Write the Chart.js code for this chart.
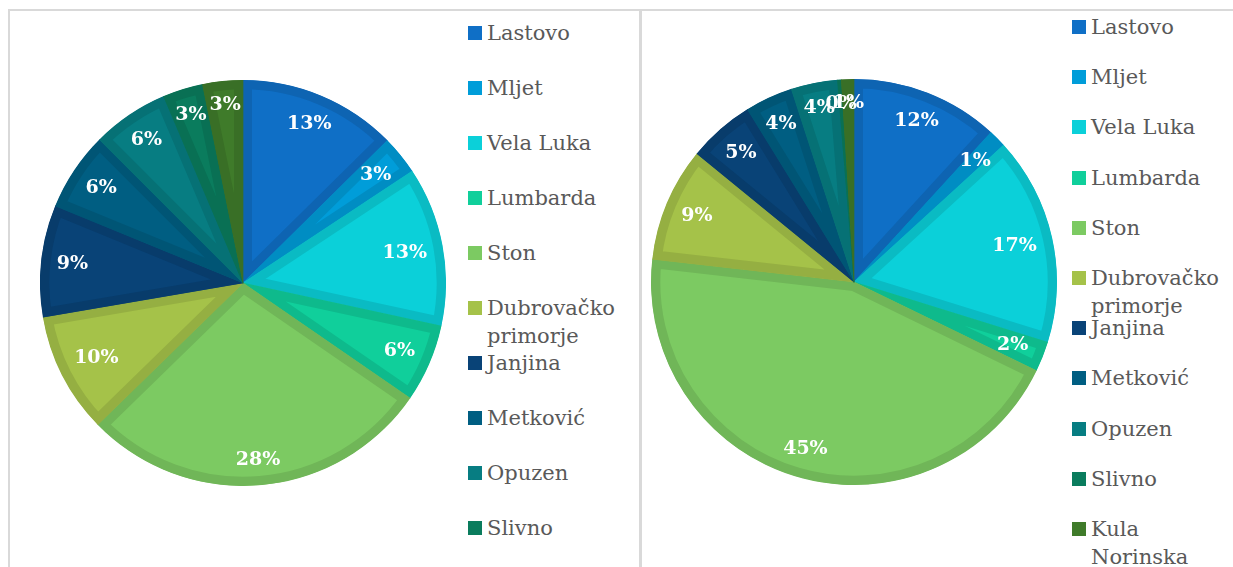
<!DOCTYPE html>
<html lang="hr">
<head>
<meta charset="UTF-8">
<title>Udio po općinama</title>
<script src="https://cdn.jsdelivr.net/npm/chart.js"></script>
<style>
    html, body { margin: 0; padding: 0; background: #fff; overflow: hidden; }
    body { width: 1233px; height: 567px; position: relative; font-family: 'DejaVu Serif', serif; }

    .panel {
        position: absolute;
        top: 9px;
        height: 640px;
        box-sizing: border-box;
        border: 2px solid #d9d9d9;
    }
    #panel-left { left: 8px; width: 633px; }
    #panel-right { left: 641px; width: 620px; border-left-width: 1px; }

    .pie { position: absolute; }
    #pie-left { left: 40px; top: 80px; }
    #pie-right { left: 651px; top: 79px; }

    .legend { position: absolute; margin: 0; padding: 0; list-style: none; }
    #legend-left { left: 468px; top: 19px; }
    #legend-right { left: 1072px; top: 13px; }
    .legend li { display: flex; align-items: flex-start; }
    .legend .box { width: 14px; height: 14px; margin: 7px 5px 0 0; flex: none; }
    .legend .txt { width: 140px; font-size: 21px; line-height: 28px; color: #595959; }
</style>
</head>
<body>
    <div class="panel" id="panel-left"></div>
    <div class="panel" id="panel-right"></div>

    <canvas class="pie" id="pie-left" width="406" height="406"></canvas>
    <canvas class="pie" id="pie-right" width="406" height="406"></canvas>

    <ul class="legend" id="legend-left"></ul>
    <ul class="legend" id="legend-right"></ul>

<script>
    // categories
    const municipalities = ['Lastovo', 'Mljet', 'Vela Luka', 'Lumbarda', 'Ston', 'Dubrovačko primorje',
                            'Janjina', 'Metković', 'Opuzen', 'Slivno', 'Kula Norinska'];

    // shares (%)
    const shareLeft = [12.6, 3.1, 12.7, 6.2, 28.1, 9.6, 8.9, 6.3, 6.1, 3.2, 3.2];
    const shareRight = [11.8, 1.4, 16.6, 2.4, 44.6, 9.1, 5.3, 3.8, 3.7, 0.3, 1.0];

    const sliceColors = ['#0F6FC6', '#009DD9', '#0BD0D9', '#10CF9B', '#7CCA62', '#A5C249',
                         '#094377', '#005E82', '#077D82', '#0A7C5D', '#3F7B2A'];

    function darker(hex, f) {
        const n = parseInt(hex.slice(1), 16);
        const r = Math.round(((n >> 16) & 255) * f);
        const g = Math.round(((n >> 8) & 255) * f);
        const b = Math.round((n & 255) * f);
        return `rgb(${r}, ${g}, ${b})`;
    }

    // white percentage labels placed near the outer edge of each slice
    const pctLabels = {
        id: 'pctLabels',
        afterDatasetsDraw(chart) {
            const ctx = chart.ctx;
            const values = chart.data.datasets[0].data;
            const total = values.reduce((a, b) => a + b, 0);
            ctx.save();
            ctx.font = 'bold 19px "DejaVu Serif"';
            ctx.fillStyle = '#ffffff';
            ctx.textAlign = 'center';
            ctx.textBaseline = 'middle';
            chart.getDatasetMeta(0).data.forEach((arc, i) => {
                const p = arc.getProps(['x', 'y', 'startAngle', 'endAngle', 'outerRadius'], true);
                const mid = (p.startAngle + p.endAngle) / 2;
                const txt = Math.round(values[i] / total * 100) + '%';
                const hw = ctx.measureText(txt).width / 2;
                const hh = 8;
                const c = Math.cos(mid), s = Math.sin(mid);
                const d = p.outerRadius - 15 - (Math.abs(c) * hw + Math.abs(s) * hh);
                ctx.fillText(txt, p.x + c * d, p.y + s * d);
            });
            ctx.restore();
        }
    };

    function makePie(id, values) {
        new Chart(document.getElementById(id), {
            type: 'pie',
            data: {
                labels: municipalities,
                datasets: [{
                    data: values,
                    backgroundColor: sliceColors,
                    borderColor: sliceColors.map(c => darker(c, 0.9)),
                    borderWidth: 9,
                    borderAlign: 'inner',
                    hoverOffset: 0
                }]
            },
            options: {
                responsive: false,
                animation: false,
                events: [],
                layout: { padding: 0 },
                plugins: {
                    legend: { display: false },
                    tooltip: { enabled: false }
                }
            },
            plugins: [pctLabels]
        });
    }

    function makeLegend(id, rowHeight) {
        const list = document.getElementById(id);
        list.innerHTML = municipalities.map((name, i) => `
            <li style="height:${rowHeight}px">
                <span class="box" style="background:${sliceColors[i]}"></span>
                <span class="txt">${name}</span>
            </li>
        `).join('');
    }

    makePie('pie-left', shareLeft);
    makePie('pie-right', shareRight);
    makeLegend('legend-left', 55);
    makeLegend('legend-right', 50.2);
</script>
</body>
</html>
